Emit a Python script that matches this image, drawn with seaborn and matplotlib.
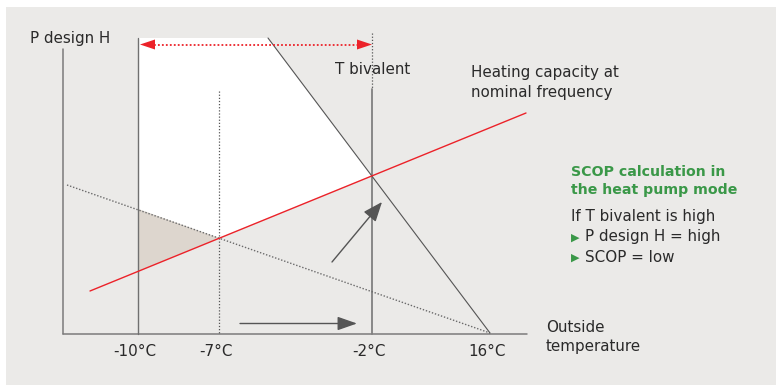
import matplotlib
matplotlib.use("Agg")
import matplotlib.pyplot as plt
import seaborn as sns
from matplotlib.patches import Polygon, Rectangle

sns.set_theme(style="white")
plt.rcParams["font.family"] = ["DejaVu Sans"]

# Diagram coordinates (x to the right, y downwards, in drawing units)
tick_labels = ["-10°C", "-7°C", "-2°C", "16°C"]
tick_x = [138, 219, 372, 490]

axis_left_x = 63
axis_top_y = 49
baseline_y = 333.5
axis_right_x = 527

# Heating capacity at nominal frequency (red)
capacity_x = [90, 526]
capacity_y = [291, 113]

# Building heat load curve (dotted)
load_x = [67, 490]
load_y = [185, 333]

# Design load line (solid, steep)
design_x = [268, 490]
design_y = [38, 333]

# Regions
white_x = [138, 268, 372, 219, 138]
white_y = [38, 38, 175.5, 238, 209]
shaded_x = [138, 219, 138]
shaded_y = [209, 238, 271.5]

BG = "#ebeae8"
AXIS = "#7b7b7b"
DARK = "#555555"
RED = "#ec2229"
GREEN = "#3a9848"
TEXT = "#2a2a2a"
FS = 10.9

fig = plt.figure(figsize=(7.76, 3.85), dpi=100)
fig.patch.set_facecolor("white")
ax = fig.add_axes([0, 0, 1, 1])
ax.set_xlim(0, 776)
ax.set_ylim(385, 0)
ax.axis("off")

# Panel background
ax.add_patch(Rectangle((6, 7), 776, 385, facecolor=BG, edgecolor="none", zorder=0))

ax.add_patch(Polygon(list(zip(white_x, white_y)), closed=True,
                     facecolor="white", edgecolor="none", zorder=1))
ax.add_patch(Polygon(list(zip(shaded_x, shaded_y)), closed=True,
                     facecolor="#ddd6ce", edgecolor="none", zorder=1))

# Axes
ax.plot([axis_left_x, axis_left_x], [axis_top_y, baseline_y], color=AXIS, lw=1.1, zorder=3)
ax.plot([axis_left_x, axis_right_x], [baseline_y, baseline_y], color=AXIS, lw=1.1, zorder=3)

# Temperature markers
ax.plot([tick_x[0], tick_x[0]], [38, baseline_y], color="#707070", lw=1.0, zorder=3)
ax.plot([tick_x[1], tick_x[1]], [91, baseline_y], color="#555555", lw=0.9,
        ls=(0, (1, 1.5)), zorder=3)
ax.plot([tick_x[2], tick_x[2]], [33, 89], color="#555555", lw=0.9,
        ls=(0, (1, 1.5)), zorder=3)
ax.plot([tick_x[2], tick_x[2]], [89, baseline_y], color="#808080", lw=1.3, zorder=3)

for lbl, x in zip(tick_labels, tick_x):
    ax.text(x - 3, 351, lbl, ha="center", va="center", fontsize=FS, color=TEXT)

# Curves
sns.lineplot(x=load_x, y=load_y, ax=ax, color="#6a6a6a", lw=1.0,
             linestyle=(0, (1, 1.3)), zorder=4)
sns.lineplot(x=design_x, y=design_y, ax=ax, color=DARK, lw=0.8, zorder=4)
sns.lineplot(x=capacity_x, y=capacity_y, ax=ax, color=RED, lw=1.0, zorder=5)
ax.set_xlim(0, 776)
ax.set_ylim(385, 0)

# Red double arrow between -10°C and T bivalent
ax.plot([150, 360], [44.5, 44.5], color=RED, lw=1.3, ls=(0, (1, 1.2)), zorder=5)
ax.add_patch(Polygon([(140, 44.5), (155, 39.5), (155, 49.5)], closed=True,
                     facecolor=RED, edgecolor="none", zorder=6))
ax.add_patch(Polygon([(372, 44.5), (357, 39.5), (357, 49.5)], closed=True,
                     facecolor=RED, edgecolor="none", zorder=6))

# Gray arrows
ax.annotate("", xy=(382, 202), xytext=(332, 262),
            arrowprops=dict(arrowstyle="-|>,head_length=1.0,head_width=0.4",
                            color=DARK, lw=1.0, shrinkA=0, shrinkB=0), zorder=6)
ax.annotate("", xy=(357, 323.5), xytext=(240, 323.5),
            arrowprops=dict(arrowstyle="-|>,head_length=1.0,head_width=0.35",
                            color=DARK, lw=1.0, shrinkA=0, shrinkB=0), zorder=6)

# Labels
ax.text(30, 38, "P design H", ha="left", va="center", fontsize=FS, color=TEXT)
ax.text(335, 70, "T bivalent", ha="left", va="center", fontsize=FS, color=TEXT)
ax.text(471, 73, "Heating capacity at", ha="left", va="center", fontsize=FS, color=TEXT)
ax.text(471, 93, "nominal frequency", ha="left", va="center", fontsize=FS, color=TEXT)
ax.text(546, 327, "Outside", ha="left", va="center", fontsize=FS, color=TEXT)
ax.text(546, 347, "temperature", ha="left", va="center", fontsize=FS, color=TEXT)

ax.text(571, 172, "SCOP calculation in", ha="left", va="center", fontsize=10.2,
        color=GREEN, fontweight="bold")
ax.text(571, 190, "the heat pump mode", ha="left", va="center", fontsize=10.2,
        color=GREEN, fontweight="bold")
ax.text(571, 216, "If T bivalent is high", ha="left", va="center", fontsize=FS, color=TEXT)
for y, t in [(237, "P design H = high"), (257, "SCOP = low")]:
    ax.text(571, y + 1, "▶", ha="left", va="center", fontsize=8, color=GREEN)
    ax.text(585, y, t, ha="left", va="center", fontsize=FS, color=TEXT)

fig.savefig("out.png", dpi=100, facecolor=fig.get_facecolor())
